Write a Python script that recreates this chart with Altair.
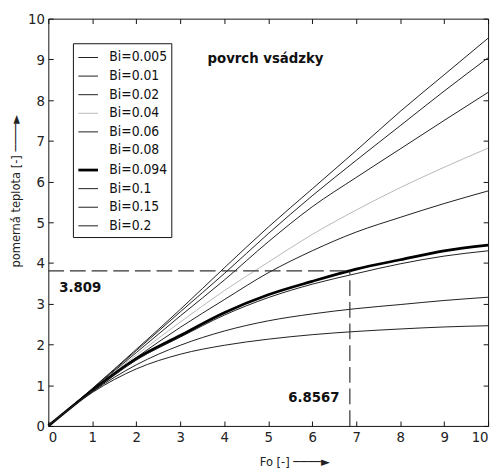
import altair as alt
import pandas as pd

# ---- data ----
fo = [0, 1, 2, 3, 4, 5, 6, 7, 8, 9, 10]
bi_labels = ["Bi=0.005", "Bi=0.01", "Bi=0.02", "Bi=0.04", "Bi=0.06",
             "Bi=0.08", "Bi=0.094", "Bi=0.1", "Bi=0.15", "Bi=0.2"]
theta_0005 = [0, 0.92, 1.88, 2.86, 3.88, 4.88, 5.82, 6.76, 7.72, 8.62, 9.52]
theta_001 = [0, 0.91, 1.85, 2.80, 3.74, 4.72, 5.65, 6.52, 7.37, 8.22, 9.04]
theta_002 = [0, 0.90, 1.80, 2.70, 3.58, 4.52, 5.38, 6.10, 6.80, 7.50, 8.19]
theta_004 = [0, 0.89, 1.74, 2.55, 3.32, 4.02, 4.70, 5.30, 5.85, 6.35, 6.82]
theta_006 = [0, 0.88, 1.68, 2.42, 3.10, 3.76, 4.30, 4.76, 5.12, 5.46, 5.77]
theta_008 = [0, 0.87, 1.66, 2.35, 2.95, 3.48, 3.92, 4.28, 4.58, 4.83, 5.05]
theta_0094 = [0, 0.87, 1.65, 2.22, 2.78, 3.22, 3.55, 3.85, 4.08, 4.30, 4.44]
theta_01 = [0, 0.86, 1.62, 2.18, 2.72, 3.15, 3.48, 3.74, 3.98, 4.17, 4.30]
theta_015 = [0, 0.84, 1.50, 1.98, 2.33, 2.58, 2.75, 2.88, 2.98, 3.08, 3.16]
theta_02 = [0, 0.82, 1.40, 1.76, 1.98, 2.13, 2.24, 2.32, 2.38, 2.43, 2.46]
series_values = [theta_0005, theta_001, theta_002, theta_004, theta_006,
                 theta_008, theta_0094, theta_01, theta_015, theta_02]

marker_theta = 3.809
marker_fo = 6.8567
tick_values = [0, 1, 2, 3, 4, 5, 6, 7, 8, 9, 10]

# ---- styling ----
line_colors = ["#1e1e1e", "#1e1e1e", "#1e1e1e", "#b8b8b8", "#1e1e1e",
               "#ffffff", "#000000", "#1e1e1e", "#1e1e1e", "#1e1e1e"]
line_widths = [1, 1, 1, 1, 1, 1, 2.8, 1, 1, 1]
FONT = "DejaVu Sans Condensed, Liberation Sans Narrow, sans-serif"
W, H = 447, 414

rows = []
for lab, vals in zip(bi_labels, series_values):
    for i, (f, t) in enumerate(zip(fo, vals)):
        rows.append({"Fo": f, "theta": t, "series": lab, "order": i})
df = pd.DataFrame(rows)

xs = alt.Scale(domain=[0, 10], nice=False, zero=False)
ys = alt.Scale(domain=[0, 10], nice=False, zero=False)

color_enc = alt.Color("series:N", scale=alt.Scale(type="ordinal", domain=bi_labels, range=line_colors),
                      sort=bi_labels, legend=alt.Legend(title=None))
width_enc = alt.StrokeWidth("series:N", scale=alt.Scale(type="ordinal", domain=bi_labels, range=line_widths),
                            sort=bi_labels, legend=alt.Legend(title=None))

x_enc = alt.X("Fo:Q", scale=xs,
              axis=alt.Axis(values=tick_values, title="Fo [-]   ────►",
                            titleX=250, titleY=36, titleBaseline="middle",
                            titleAlign="center",
                            gridDash=[5, H - 10]))
y_enc = alt.Y("theta:Q", scale=ys,
              axis=alt.Axis(values=tick_values, title="pomerná teplota [-]   ────►",
                            titleX=-33, titleY=175, titleAngle=-90,
                            titleBaseline="middle", titleAlign="center",
                            gridDash=[5, W - 10]))

white = alt.Chart(df[df.series == "Bi=0.08"]).mark_line(interpolate="monotone").encode(
    x=x_enc, y=y_enc, color=color_enc, strokeWidth=width_enc, order="order:Q")
lines = alt.Chart(df[df.series != "Bi=0.08"]).mark_line(interpolate="monotone").encode(
    x=alt.X("Fo:Q", scale=xs), y=alt.Y("theta:Q", scale=ys),
    color=color_enc, strokeWidth=width_enc, detail="series:N", order="order:Q")

dash_df = pd.DataFrame({
    "x0": [0, marker_fo], "x1": [marker_fo, marker_fo],
    "y0": [marker_theta, 0], "y1": [marker_theta, marker_theta]})
dashes = alt.Chart(dash_df).mark_rule(strokeDash=[16, 6], color="#333333", strokeWidth=1.2).encode(
    x=alt.X("x0:Q", scale=xs), x2="x1:Q", y=alt.Y("y0:Q", scale=ys), y2="y1:Q")

label_df = pd.DataFrame({
    "x": [3.62, 0.25], "y": [9.03, 3.41],
    "txt": ["povrch vsádzky", f"{marker_theta:.3f}"]})
labels_left = alt.Chart(label_df).mark_text(
    align="left", baseline="middle", font=FONT, fontWeight="bold", fontSize=15, color="#111").encode(
    x=alt.X("x:Q", scale=xs), y=alt.Y("y:Q", scale=ys), text="txt:N")

label_r_df = pd.DataFrame({"x": [6.62], "y": [0.70], "txt": [f"{marker_fo}"]})
labels_right = alt.Chart(label_r_df).mark_text(
    align="right", baseline="middle", font=FONT, fontWeight="bold", fontSize=15, color="#111").encode(
    x=alt.X("x:Q", scale=xs), y=alt.Y("y:Q", scale=ys), text="txt:N")

chart = alt.layer(white, lines, dashes, labels_left, labels_right).properties(
    width=W, height=H,
    padding={"left": 41, "top": 7, "right": 5, "bottom": 43},
    autosize=alt.AutoSizeParams(type="none"),
).configure_view(stroke="#111", strokeWidth=1).configure_axis(
    grid=True, gridColor="#111", gridWidth=1, gridOpacity=1,
    ticks=False, domain=False,
    labelFont=FONT, labelFontSize=15, labelColor="#222", labelPadding=4,
    titleFont=FONT, titleFontSize=13, titleFontWeight="normal", titleColor="#222",
).configure_legend(
    orient="none", legendX=25, legendY=25,
    strokeColor="#111", fillColor="white", padding=4,
    symbolType="stroke", symbolSize=400, labelFont=FONT, labelFontSize=14,
    labelColor="#111", rowPadding=0.9, labelOffset=10,
)

chart.save("out.html", embed_options={"renderer": "svg", "actions": False})
